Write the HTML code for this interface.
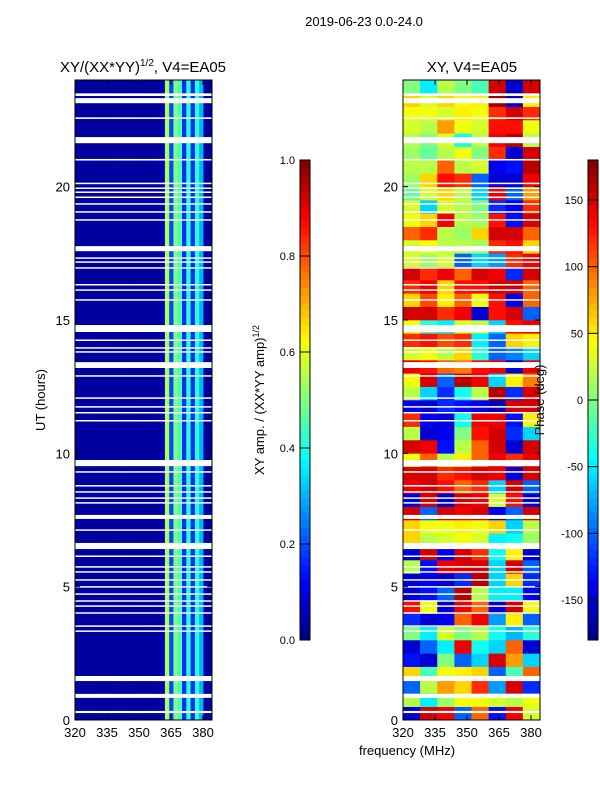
<!DOCTYPE html>
<html><head><meta charset="utf-8"><style>
body{margin:0;background:#fff;font-family:"Liberation Sans",sans-serif}
svg text{font-family:"Liberation Sans","DejaVu Sans",sans-serif}
</style></head><body>
<svg id="fig" width="600" height="800" xmlns="http://www.w3.org/2000/svg">
<rect width="600" height="800" fill="#fff"/>
<text x="364" y="26" font-size="13" text-anchor="middle">2019-06-23 0.0-24.0</text>
<text x="143" y="72" font-size="15" text-anchor="middle">XY/(XX*YY)<tspan font-size="10" dy="-6">1/2</tspan><tspan dy="6">, V4=EA05</tspan></text>
<text x="472" y="72" font-size="15" text-anchor="middle">XY, V4=EA05</text>
<g id="left"></g>
<g id="right"></g>
<g id="axes"></g>
<text transform="translate(45,400) rotate(-90)" font-size="13" text-anchor="middle">UT (hours)</text>
<text transform="translate(264,400) rotate(-90)" font-size="13" text-anchor="middle">XY amp. / (XX*YY amp)<tspan font-size="9" dy="-5">1/2</tspan></text>
<text transform="translate(544,400) rotate(-90)" font-size="13" text-anchor="middle">Phase (deg)</text>
<text x="407" y="755" font-size="13" text-anchor="middle">frequency (MHz)</text>
</svg>
<script>
const xTicks=[320,335,350,365,380];
const yTicks=[0,5,10,15,20];
const ampTicks=[0.0,0.2,0.4,0.6,0.8,1.0];
const phaseTicks=[-150,-100,-50,0,50,100,150];
const ampColProfile=[0.03,0.03,0.03,0.03,0.03,0.03,0.03,0.03,0.03,0.03,0.03,0.03,0.03,0.03,0.03,0.03,0.03,0.03,0.03,0.03,0.06,0.55,0.2,0.5,0.45,0.17,0.42,0.17,0.42,0.3,0.03,0.03];
const phaseRows=[
[-150,150,140,-100,100,-130,140,30],[20,-50,10,40,40,30,20,40],[-100,20,80,60,120,-80,150,-120],[60,-20,40,50,60,-100,-20,100],
[-130,-150,0,-100,-60,150,80,-60],[-150,-100,-50,140,-40,-60,100,-150],[0,-50,30,0,20,-40,-70,-30],[-120,-150,-140,100,140,-80,50,-100],
[130,40,-150,140,100,-150,150,40],[-150,-130,-100,160,20,-50,-50,-140],[-150,-140,-150,-120,160,-60,60,-120],[20,-130,140,150,150,-60,150,-100],
[-150,150,-140,150,120,-40,50,-150],[60,20,30,40,30,-50,-40,10],[60,40,40,50,40,60,-60,20],[150,-100,150,140,150,-140,-100,150],
[-150,150,-150,150,140,30,130,-150],[140,150,130,100,120,-60,150,-100],[150,150,120,130,150,140,-150,150],[40,100,20,50,100,140,120,140],
[150,140,-130,20,100,150,-150,150],[20,-150,-140,0,130,150,-120,-60],[120,-140,-150,-40,140,140,-130,50],[-140,-150,-120,-130,-140,-160,150,150],
[20,-60,-120,-40,20,160,-120,150],[40,150,-100,160,140,-60,50,90],[140,130,100,90,130,140,-150,140],[30,40,20,60,-30,-100,-90,-60],
[120,130,110,120,-50,-100,60,50],[40,-30,-50,30,20,-60,130,140],[150,150,120,140,-150,130,150,-100],[60,110,50,100,40,130,-140,100],
[120,140,60,130,130,150,150,100],[150,120,140,100,150,140,-120,150],[30,10,30,-100,-60,-80,120,140],[30,40,20,20,10,120,130,60],
[100,120,20,10,60,150,150,100],[40,60,140,20,10,130,-130,150],[30,-60,30,20,0,-120,-140,120],[-10,30,60,20,-60,140,-100,80],
[10,60,130,120,-100,-150,-150,140],[20,20,100,20,30,-140,-130,160],[10,-10,20,40,0,120,-150,150],[20,0,30,-40,20,140,160,20],
[30,20,80,40,30,130,130,40],[40,40,30,50,40,120,150,120],[60,30,60,40,50,170,-150,50],[0,-50,20,0,-20,150,-150,150]];
const flagStart=[23.4,23.13,22.54,21.63,20.98,20.1,19.92,19.77,19.58,19.33,19.03,18.73,17.58,17.3,17.15,16.93,16.3,16.1,15.73,14.55,14.22,13.93,13.78,13.2,12.88,12.05,11.72,11.5,11.2,9.52,9.28,8.76,8.53,8.3,8.12,7.54,7.1,6.41,6.12,5.72,5.53,5.23,4.97,4.7,4.44,4.25,3.99,3.5,3.31,1.46,0.83,0.26];
const flagEnd=[23.5,23.32,22.6,21.86,21.04,20.15,19.97,19.82,19.63,19.38,19.08,18.78,17.77,17.35,17.2,16.98,16.35,16.15,15.78,14.81,14.27,13.98,13.83,13.42,12.93,12.1,11.77,11.55,11.25,9.75,9.33,8.81,8.58,8.35,8.17,7.69,7.15,6.64,6.17,5.77,5.58,5.28,5.02,4.75,4.49,4.3,4.04,3.55,3.36,1.65,0.98,0.34];

const NS="http://www.w3.org/2000/svg";
const F0=320,F1=384.2,H1=24.0,TOP=80,BOT=720;
function jet(t){t=Math.max(0,Math.min(1,t));
 const c=x=>Math.round(255*Math.max(0,Math.min(1,x)));
 return `rgb(${c(1.5-Math.abs(4*t-3))},${c(1.5-Math.abs(4*t-2))},${c(1.5-Math.abs(4*t-1))})`;}
function mk(tag,attrs,parent){const e=document.createElementNS(NS,tag);for(const k in attrs)e.setAttribute(k,attrs[k]);parent.appendChild(e);return e;}
function panel(x0,x1){return {fx:f=>x0+(f-F0)/(F1-F0)*(x1-x0),hy:h=>BOT-h/H1*(BOT-TOP),x0,x1};}
const L=panel(75,212),R=panel(403,540);
const gl=document.getElementById('left'),gr=document.getElementById('right'),ga=document.getElementById('axes');
const bw=(F1-F0)/ampColProfile.length;
ampColProfile.forEach((v,i)=>{
 const r=mk('rect',{x:L.fx(F0+i*bw),y:TOP,width:L.fx(F0+(i+1)*bw)-L.fx(F0+i*bw)+0.3,height:BOT-TOP,fill:jet(v)},gl);
 
 
});
const nr=phaseRows.length,rh=H1/nr;
phaseRows.forEach((row,j)=>{const cw=(F1-F0)/row.length;row.forEach((v,i)=>{
 const x=R.fx(F0+i*cw),y=R.hy((j+1)*rh);
 const r=mk('rect',{x:x,y:y,width:R.fx(F0+(i+1)*cw)-x+0.3,height:R.hy(j*rh)-y+0.3,fill:jet((v+180)/360)},gr);
 
 
});});
[L,R].forEach(P=>{flagStart.forEach((s,i)=>{
 const y=P.hy(flagEnd[i]);
 const r=mk('rect',{x:P.x0,y:y,width:P.x1-P.x0,height:Math.max(1.5,P.hy(s)-y),fill:'#fff'},P===L?gl:gr);
 
 
});});
[L,R].forEach((P,k)=>{
 const f=mk('rect',{x:P.x0,y:TOP,width:P.x1-P.x0,height:BOT-TOP,fill:'none',stroke:'#000','stroke-width':1},ga);
 
 
 xTicks.forEach(t=>{const x=P.fx(t);
  mk('line',{x1:x,x2:x,y1:BOT,y2:BOT-5,stroke:'#000'},ga);mk('line',{x1:x,x2:x,y1:TOP,y2:TOP+5,stroke:'#000'},ga);
  const tx=mk('text',{x:x,y:BOT+17,'font-size':13,'text-anchor':'middle'},ga);tx.textContent=t;
  
  });
 yTicks.forEach(t=>{const y=P.hy(t);
  mk('line',{x1:P.x0,x2:P.x0+5,y1:y,y2:y,stroke:'#000'},ga);mk('line',{x1:P.x1,x2:P.x1-5,y1:y,y2:y,stroke:'#000'},ga);
  const tx=mk('text',{x:P.x0-5,y:y+5,'font-size':13,'text-anchor':'end'},ga);tx.textContent=t;
  
  });
});
function cbar(x,lo,hi,ticks,name){
 const n=64;for(let i=0;i<n;i++){const y=640-(i+1)*480/n;
  const r=mk('rect',{x:x,y:y,width:10,height:480/n+0.5,fill:jet((i+0.5)/n)},ga);
  
  }
 const fr=mk('rect',{x:x,y:160,width:10,height:480,fill:'none',stroke:'#000'},ga);
 
 
 ticks.forEach(t=>{const y=640-(t-lo)/(hi-lo)*480;
  mk('line',{x1:x,x2:x+10,y1:y,y2:y,stroke:'#000'},ga);
  const tx=mk('text',{x:x-5,y:y+4,'font-size':11,'text-anchor':'end'},ga);
  tx.textContent=(name==='amp-colorbar')?t.toFixed(1):t;
  
  });
}
cbar(300,0,1,ampTicks,'amp-colorbar');
cbar(588,-180,180,phaseTicks,'phase-colorbar');
</script>
</body></html>
